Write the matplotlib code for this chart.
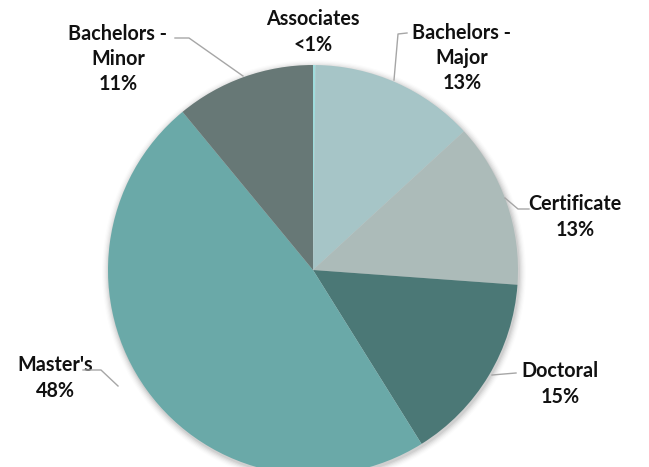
import matplotlib
matplotlib.use("Agg")
import matplotlib.pyplot as plt
import numpy as np

# Degree types, clockwise from twelve o'clock
categories = ["Associates", "Bachelors -\nMajor", "Certificate", "Doctoral", "Master's", "Bachelors -\nMinor"]
shares = [0.2, 13, 13, 15, 48, 11]
pct_labels = ["<1%", "13%", "13%", "15%", "48%", "11%"]
colors = ["#9edcdc", "#a6c5c7", "#acbbb9", "#4b7876", "#6aa9a8", "#677876"]

W, H = 649, 467
fig = plt.figure(figsize=(W / 100, H / 100), dpi=100)
ax = fig.add_axes([0, 0, 1, 1])
ax.set_xlim(0, W)
ax.set_ylim(0, H)
ax.set_aspect("equal")
ax.axis("off")

cx, cy, r = 313, H - 270, 205

# soft drop shadow behind the pie
for i, a in enumerate(np.linspace(0.05, 0.01, 6)):
    ax.add_patch(plt.Circle((cx + 1, cy - 2), r + 1 + i * 1.2, color="black", alpha=a, lw=0, zorder=0))

ax.pie(shares, colors=colors, startangle=90, counterclock=False,
       center=(cx, cy), radius=r, frame=True,
       wedgeprops=dict(linewidth=0, zorder=1))
ax.set_xlim(0, W)
ax.set_ylim(0, H)
ax.axis("off")

font = dict(family=["Lato", "DejaVu Sans"], fontsize=14.2, fontweight="bold",
            color="#111111", ha="center", va="center", linespacing=1.32)

# label anchor positions (pixel coordinates, y measured from the top)
label_pos = [(313, 32), (462, 58), (575, 217), (560, 384), (55, 378), (118, 59)]
for cat, pct, (px, py) in zip(categories, pct_labels, label_pos):
    ax.text(px, H - py, f"{cat}\n{pct}", **font)

# leader lines from wedges to labels
leaders = [
    [(394, 80), (398, 34), (407, 33)],
    [(505, 198), (518, 209), (529, 209)],
    [(492, 375), (516, 373)],
    [(118, 386), (101, 370), (83, 370)],
    [(243, 76), (189, 38), (175, 38)],
]
for pts in leaders:
    xs = [p[0] for p in pts]
    ys = [H - p[1] for p in pts]
    ax.plot(xs, ys, color="#a6a6a6", lw=1, zorder=3)

fig.savefig("out.png", dpi=100)
